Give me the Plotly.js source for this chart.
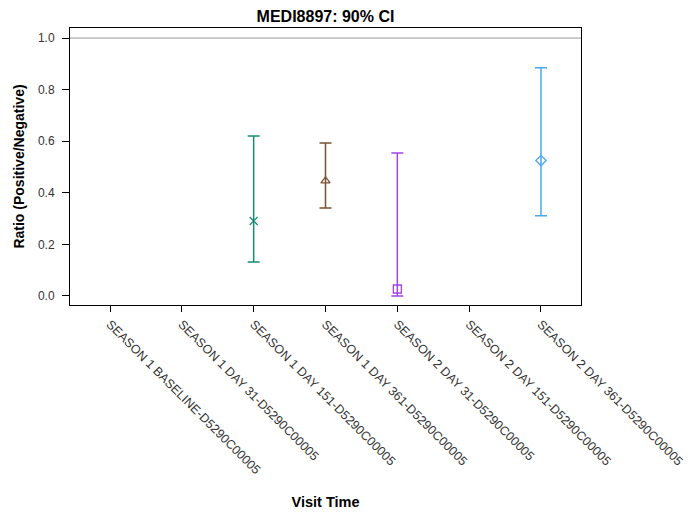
<!DOCTYPE html>
<html>
<head>
<meta charset="utf-8">
<script src="https://cdn.plot.ly/plotly-3.0.1.min.js"></script>
<style>body{margin:0;background:#fff;}#chart{width:692px;height:516px;}</style>
</head>
<body>
<div id="chart"></div>
<script>
const categories = [
  "SEASON 1 BASELINE-D5290C00005",
  "SEASON 1 DAY 31-D5290C00005",
  "SEASON 1 DAY 151-D5290C00005",
  "SEASON 1 DAY 361-D5290C00005",
  "SEASON 2 DAY 31-D5290C00005",
  "SEASON 2 DAY 151-D5290C00005",
  "SEASON 2 DAY 361-D5290C00005"
];
const pointCats = [
  "SEASON 1 DAY 151-D5290C00005",
  "SEASON 1 DAY 361-D5290C00005",
  "SEASON 2 DAY 31-D5290C00005",
  "SEASON 2 DAY 361-D5290C00005"
];
const ratio = [0.291, 0.446, 0.027, 0.525];
const upper = [0.620, 0.593, 0.554, 0.885];
const lower = [0.132, 0.341, 0.000, 0.311];
const colors = ["#1a8a78", "#7a5230", "#a244e8", "#4aa8f0"];
const symbols = ["x-thin-open", "triangle-up-open", "square-open", "diamond-open"];
const refLine = 1.0;

const traces = pointCats.map((c, i) => ({
  type: "scatter",
  mode: "markers",
  x: [c],
  y: [ratio[i]],
  marker: {symbol: symbols[i], size: 8, color: colors[i], line: {color: colors[i], width: 1.3}},
  error_y: {
    type: "data", symmetric: false,
    array: [upper[i] - ratio[i]],
    arrayminus: [ratio[i] - lower[i]],
    color: colors[i], thickness: 1.5, width: 6
  },
  showlegend: false,
  hoverinfo: "x+y"
}));

const layout = {
  width: 692, height: 516,
  margin: {l: 70, r: 111, t: 28, b: 211},
  paper_bgcolor: "#fff", plot_bgcolor: "#fff",
  font: {family: "Liberation Sans, Arial, sans-serif", color: "#333", size: 12},
  title: {text: "<b>MEDI8897: 90% CI</b>", x: 0.5, xref: "paper", yref: "container", y: 0.969, yanchor: "middle",
          font: {size: 16, color: "#000"}},
  xaxis: {
    type: "category", categoryorder: "array", categoryarray: categories,
    tickvals: categories, ticktext: categories,
    range: [-0.557, 6.557],
    tickangle: 45, ticks: "outside", ticklen: 6, tickcolor: "#000",
    showline: true, linecolor: "#000", linewidth: 1, mirror: true,
    showgrid: false, zeroline: false,
    tickfont: {size: 12.5, color: "#333"},
    title: {text: "<b>Visit Time</b>", font: {size: 14.5, color: "#000"}, standoff: 20}
  },
  yaxis: {
    range: [-0.035, 1.039],
    tickvals: [0, 0.2, 0.4, 0.6, 0.8, 1.0],
    ticktext: ["0.0", "0.2", "0.4", "0.6", "0.8", "1.0"],
    ticks: "outside", ticklen: 7, tickcolor: "#000", ticklabelstandoff: 5,
    showline: true, linecolor: "#000", linewidth: 1, mirror: true,
    showgrid: false, zeroline: false,
    tickfont: {size: 12, color: "#333"},
    title: {text: "<b>Ratio (Positive/Negative)</b>", font: {size: 14, color: "#000"}, standoff: 10}
  },
  shapes: [{type: "line", xref: "paper", x0: 0, x1: 1, yref: "y", y0: refLine, y1: refLine,
            line: {color: "#999", width: 1}}]
};

Plotly.newPlot("chart", traces, layout, {displayModeBar: false, staticPlot: true});
</script>
</body>
</html>
